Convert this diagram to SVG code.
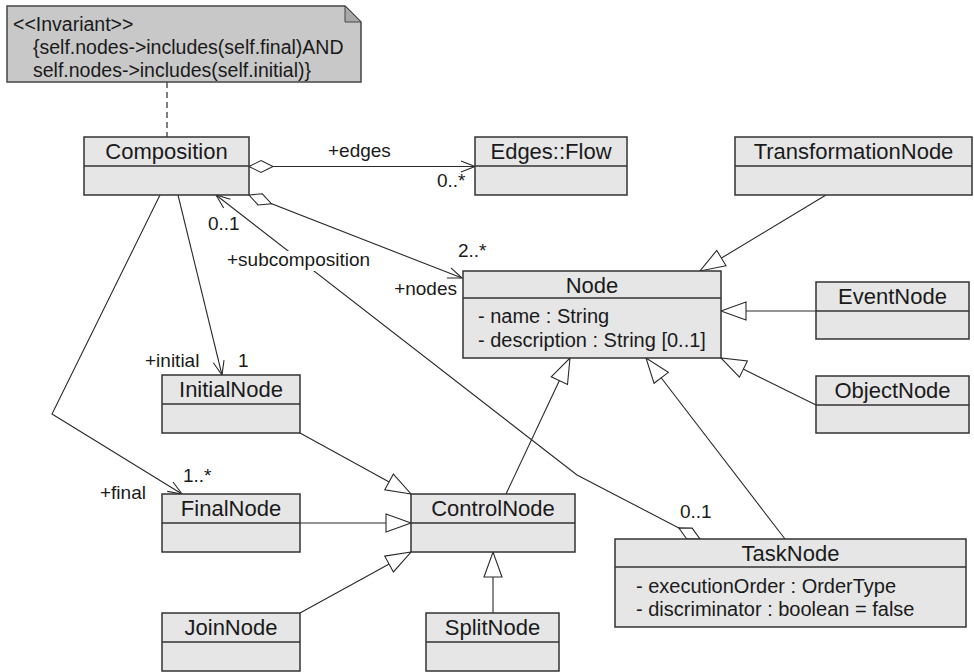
<svg xmlns="http://www.w3.org/2000/svg" width="974" height="672" viewBox="0 0 974 672">
  <style>
    .box { fill: #e6e6e6; stroke: #333333; stroke-width: 1.5; }
    .div { stroke: #333333; stroke-width: 1.5; fill: none; }
    .name { font-family: "Liberation Sans", Arial, sans-serif; font-size: 22px; fill: #1a1a1a; text-anchor: middle; }
    .attr { font-family: "Liberation Sans", Arial, sans-serif; font-size: 20px; fill: #1a1a1a; }
    .lbl { font-family: "Liberation Sans", Arial, sans-serif; font-size: 19px; fill: #1a1a1a; }
    .note { fill: #c8c8c8; stroke: #444444; stroke-width: 1.5; }
    .fold { fill: #a8a8a8; stroke: #444444; stroke-width: 1; }
    .ntxt { font-family: "Liberation Sans", Arial, sans-serif; font-size: 19.5px; fill: #1a1a1a; }
    .line { fill: none; stroke: #2a2a2a; stroke-width: 1.1; }
    .assoc { marker-end: url(#open); }
    .gen { marker-end: url(#tri); }
    .agg { marker-start: url(#diamond); }
    .dash { fill: none; stroke: #555555; stroke-width: 1.5; stroke-dasharray: 6 4; }
    .gap { fill: #ffffff; stroke: none; }
  </style>
  <defs>
    <marker id="tri" markerUnits="userSpaceOnUse" viewBox="-27 -11 29 22" markerWidth="29" markerHeight="22" refX="0" refY="0" orient="auto">
      <path d="M-25,-9 L0,0 L-25,9 Z" fill="#ffffff" stroke="#2a2a2a" stroke-width="1.1"/>
    </marker>
    <marker id="open" markerUnits="userSpaceOnUse" viewBox="-16 -8 18 16" markerWidth="18" markerHeight="16" refX="0" refY="0" orient="auto">
      <path d="M-14,-5.5 L0,0 L-14,5.5" fill="none" stroke="#2a2a2a" stroke-width="1.1"/>
    </marker>
    <marker id="diamond" markerUnits="userSpaceOnUse" viewBox="-2 -8 28 16" markerWidth="28" markerHeight="16" refX="0" refY="0" orient="auto">
      <path d="M0,0 L12,-6 L24,0 L12,6 Z" fill="#ffffff" stroke="#2a2a2a" stroke-width="1.1"/>
    </marker>
  </defs>

  <!-- connectors -->
  <g id="connectors">
    <!-- constraint note attachment -->
    <path class="dash" d="M167,82 L167,137"/>
    <!-- associations from Composition -->
    <path class="line agg assoc" d="M249,166.5 L475,166.5"/>
    <path class="line agg assoc" d="M249,195 L462,278"/>
    <path class="line agg assoc" d="M700,539 L577,475 L216,195"/>
    <path class="line assoc" d="M178,195 L222,375"/>
    <path class="line assoc" d="M160,195 L52,414 L182,494"/>
    <!-- generalizations -->
    <path class="line gen" d="M300,433 L411,494"/>
    <path class="line gen" d="M300,523 L411,523"/>
    <path class="line gen" d="M300,613 L411,552"/>
    <path class="line gen" d="M493,613 L493,552"/>
    <path class="line gen" d="M506,494 L570,358"/>
    <path class="line gen" d="M785,539 L646,358"/>
    <path class="line gen" d="M826,195 L700,271"/>
    <path class="line gen" d="M816,311 L721,311"/>
    <path class="line gen" d="M816,405 L721,358"/>
    <!-- role names and multiplicities -->
    <text class="lbl" x="328" y="157">+edges</text>
    <text class="lbl" x="437" y="187">0..*</text>
    <text class="lbl" x="208" y="230">0..1</text>
    <rect class="gap" x="225" y="251" width="150" height="20"/>
    <text class="lbl" x="227" y="266">+subcomposition</text>
    <text class="lbl" x="458" y="257">2..*</text>
    <text class="lbl" x="457" y="295" text-anchor="end">+nodes</text>
    <text class="lbl" x="145" y="367">+initial</text>
    <text class="lbl" x="238" y="367">1</text>
    <text class="lbl" x="183" y="482">1..*</text>
    <text class="lbl" x="100" y="499">+final</text>
    <text class="lbl" x="680" y="518">0..1</text>
  </g>

  <!-- invariant note -->
  <g id="invariant">
    <path class="note" d="M7,6 L345,6 L361,22 L361,82 L7,82 Z"/>
    <path class="fold" d="M345,6 L345,22 L361,22 Z"/>
    <text class="ntxt" x="13" y="31">&lt;&lt;Invariant&gt;&gt;</text>
    <text class="ntxt" x="33" y="54">{self.nodes-&gt;includes(self.final)AND</text>
    <text class="ntxt" x="33" y="77">self.nodes-&gt;includes(self.initial)}</text>
  </g>

  <g id="Composition">
    <rect class="box" x="84" y="137" width="165" height="58"/>
    <path class="div" d="M84,166 H249"/>
    <text class="name" x="166.5" y="159">Composition</text>
  </g>

  <g id="EdgesFlow">
    <rect class="box" x="475" y="137" width="152" height="58"/>
    <path class="div" d="M475,166 H627"/>
    <text class="name" x="551" y="159">Edges::Flow</text>
  </g>

  <g id="TransformationNode">
    <rect class="box" x="735" y="137" width="237" height="58"/>
    <path class="div" d="M735,166 H972"/>
    <text class="name" x="853.5" y="159">TransformationNode</text>
  </g>

  <g id="Node">
    <rect class="box" x="463" y="271" width="258" height="87"/>
    <path class="div" d="M463,298 H721"/>
    <text class="name" x="592" y="293">Node</text>
    <text class="attr" x="478" y="323">- name : String</text>
    <text class="attr" x="478" y="347">- description : String [0..1]</text>
  </g>

  <g id="EventNode">
    <rect class="box" x="816" y="282" width="153" height="57"/>
    <path class="div" d="M816,311 H969"/>
    <text class="name" x="892.5" y="304">EventNode</text>
  </g>

  <g id="ObjectNode">
    <rect class="box" x="816" y="376" width="153" height="57"/>
    <path class="div" d="M816,405 H969"/>
    <text class="name" x="892.5" y="398">ObjectNode</text>
  </g>

  <g id="InitialNode">
    <rect class="box" x="162" y="375" width="138" height="58"/>
    <path class="div" d="M162,404 H300"/>
    <text class="name" x="231" y="397">InitialNode</text>
  </g>

  <g id="FinalNode">
    <rect class="box" x="162" y="494" width="138" height="58"/>
    <path class="div" d="M162,523 H300"/>
    <text class="name" x="231" y="516">FinalNode</text>
  </g>

  <g id="ControlNode">
    <rect class="box" x="411" y="494" width="164" height="58"/>
    <path class="div" d="M411,523 H575"/>
    <text class="name" x="493" y="516">ControlNode</text>
  </g>

  <g id="JoinNode">
    <rect class="box" x="162" y="613" width="138" height="58"/>
    <path class="div" d="M162,642 H300"/>
    <text class="name" x="231" y="635">JoinNode</text>
  </g>

  <g id="SplitNode">
    <rect class="box" x="426" y="613" width="133" height="58"/>
    <path class="div" d="M426,642 H559"/>
    <text class="name" x="492.5" y="635">SplitNode</text>
  </g>

  <g id="TaskNode">
    <rect class="box" x="615" y="539" width="351" height="88"/>
    <path class="div" d="M615,567 H966"/>
    <text class="name" x="790.5" y="561">TaskNode</text>
    <text class="attr" x="636" y="593">- executionOrder : OrderType</text>
    <text class="attr" x="636" y="616">- discriminator : boolean = false</text>
  </g>
</svg>
